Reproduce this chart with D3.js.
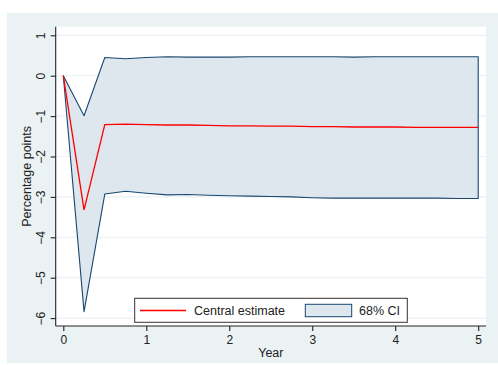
<!DOCTYPE html>
<html>
<head>
<meta charset="utf-8">
<script src="https://cdn.jsdelivr.net/npm/d3@7"></script>
<style>
  body { margin: 0; background: #fff; }
  svg { display: block; font-family: "Liberation Sans", Arial, sans-serif; }
</style>
</head>
<body>
<div id="chart"></div>
<script>
// quarterly horizon, in years
const years = [0, 0.25, 0.5, 0.75, 1, 1.25, 1.5, 1.75, 2, 2.25, 2.5, 2.75, 3, 3.25, 3.5, 3.75, 4, 4.25, 4.5, 4.75, 5];
const central = [0, -3.32, -1.21, -1.20, -1.21, -1.22, -1.22, -1.23, -1.24, -1.24, -1.25, -1.25, -1.26, -1.26, -1.27, -1.27, -1.27, -1.28, -1.28, -1.28, -1.28];
const upper = [0, -0.99, 0.45, 0.42, 0.45, 0.47, 0.46, 0.46, 0.46, 0.47, 0.47, 0.47, 0.47, 0.47, 0.46, 0.47, 0.47, 0.47, 0.47, 0.47, 0.47];
const lower = [0, -5.84, -2.93, -2.86, -2.91, -2.95, -2.94, -2.96, -2.97, -2.98, -2.99, -3.00, -3.02, -3.03, -3.03, -3.03, -3.03, -3.03, -3.03, -3.04, -3.04];
const xTicks = [0, 1, 2, 3, 4, 5];
const yTicks = [1, 0, -1, -2, -3, -4, -5, -6];

const W = 498, H = 365;
const bg = "#eaf2f3", navy = "#1a476f", ciFill = "#dfe7ee";

const svg = d3.select("#chart").append("svg")
  .attr("width", W).attr("height", H);

// outer graph region
svg.append("rect").attr("x", 7).attr("y", 13).attr("width", W - 7).attr("height", 350).attr("fill", bg);

// plot region
const plot = { left: 55.7, right: 486, top: 26.7, bottom: 326 };
svg.append("rect")
  .attr("x", plot.left).attr("y", plot.top)
  .attr("width", plot.right - plot.left).attr("height", plot.bottom - plot.top)
  .attr("fill", "#fff");

const x = d3.scaleLinear().domain([0, 5]).range([63.3, 478.2]);
const y = d3.scaleLinear().domain([1, -6]).range([35.3, 318.1]);

// gridlines
svg.append("g").selectAll("line").data(yTicks).join("line")
  .attr("x1", plot.left).attr("x2", plot.right)
  .attr("y1", d => y(d)).attr("y2", d => y(d))
  .attr("stroke", bg).attr("stroke-width", 1.2);

const rows = years.map((t, i) => ({ t, c: central[i], u: upper[i], l: lower[i] }));

// confidence band
svg.append("path").datum(rows)
  .attr("d", d3.area().x(d => x(d.t)).y0(d => y(d.l)).y1(d => y(d.u)))
  .attr("fill", ciFill).attr("stroke", navy).attr("stroke-width", 1.1)
  .attr("stroke-linejoin", "round");

// central estimate
svg.append("path").datum(rows)
  .attr("d", d3.line().x(d => x(d.t)).y(d => y(d.c)))
  .attr("fill", "none").attr("stroke", "#ff0000").attr("stroke-width", 1.3);

// axes
const xAxis = svg.append("g")
  .attr("transform", `translate(0,${plot.bottom})`)
  .call(d3.axisBottom(x).tickValues(xTicks).tickFormat(d3.format("d")).tickSize(5).tickPadding(4).tickSizeOuter(0));
xAxis.select(".domain").attr("d", `M${plot.left},0H${plot.right}`);

const yAxis = svg.append("g")
  .attr("transform", `translate(${plot.left},0)`)
  .call(d3.axisLeft(y).tickValues(yTicks).tickFormat(d3.format("d")).tickSize(5).tickSizeOuter(0));
yAxis.select(".domain").attr("d", `M0,${plot.top}V${plot.bottom}`);
yAxis.selectAll(".tick text")
  .attr("x", 0).attr("dy", null)
  .attr("text-anchor", "middle")
  .attr("transform", "translate(-10.5,0) rotate(-90)")
  .attr("dominant-baseline", "auto");

[xAxis, yAxis].forEach(g => {
  g.selectAll(".domain, .tick line").attr("stroke", "#222").attr("stroke-width", 1.1);
  g.selectAll(".tick text").attr("fill", "#222").attr("font-size", 12)
    .attr("font-family", "'Liberation Sans', Arial, sans-serif");
});

// axis titles
svg.append("text").attr("x", (plot.left + plot.right) / 2).attr("y", 357)
  .attr("text-anchor", "middle").attr("font-size", 12.5).attr("fill", "#222").text("Year");
svg.append("text")
  .attr("transform", `translate(31,${(plot.top + plot.bottom) / 2}) rotate(-90)`)
  .attr("text-anchor", "middle").attr("font-size", 12.5).attr("fill", "#222").text("Percentage points");

// legend
const lg = svg.append("g");
lg.append("rect").attr("x", 134.7).attr("y", 298.3).attr("width", 272.6).attr("height", 24)
  .attr("fill", "#fff").attr("stroke", "#333").attr("stroke-width", 1);
lg.append("line").attr("x1", 140).attr("x2", 186).attr("y1", 310.5).attr("y2", 310.5)
  .attr("stroke", "#ff0000").attr("stroke-width", 1.3);
lg.append("text").attr("x", 194).attr("y", 315).attr("font-size", 12.5).attr("fill", "#222").text("Central estimate");
lg.append("rect").attr("x", 305.3).attr("y", 304.3).attr("width", 46.4).attr("height", 12.4)
  .attr("fill", ciFill).attr("stroke", navy).attr("stroke-width", 1);
lg.append("text").attr("x", 359).attr("y", 315).attr("font-size", 12.5).attr("fill", "#222").text("68% CI");
</script>
</body>
</html>
